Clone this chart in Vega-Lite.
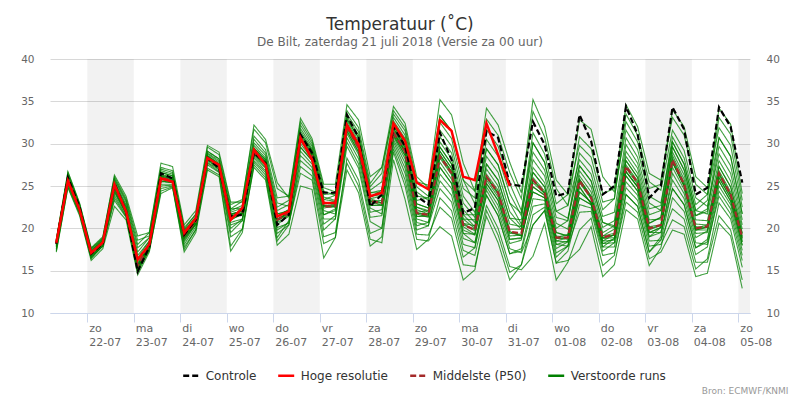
{
  "$schema": "https://vega.github.io/schema/vega-lite/v6.json",
  "width": 700,
  "height": 254,
  "autosize": {"type": "none"},
  "padding": {"left": 50, "top": 59, "right": 50, "bottom": 87},
  "background": "white",
  "config": {
    "font": "DejaVu Sans",
    "view": {"stroke": null},
    "legend": {
      "orient": "none",
      "legendX": 131.7,
      "legendY": 307,
      "direction": "horizontal",
      "symbolType": "stroke",
      "symbolSize": 256,
      "symbolStrokeWidth": 2.5,
      "symbolOpacity": 1,
      "labelFont": "DejaVu Sans",
      "labelFontSize": 12,
      "labelColor": "#333333",
      "labelOffset": 5,
      "columnPadding": 16,
      "padding": 0
    }
  },
  "title": {
    "text": "Temperatuur (˚C)",
    "subtitle": "De Bilt, zaterdag 21 juli 2018 (Versie za 00 uur)",
    "anchor": "middle",
    "font": "DejaVu Sans",
    "fontSize": 17,
    "fontWeight": "normal",
    "color": "#333333",
    "subtitleFont": "DejaVu Sans",
    "subtitleFontSize": 12,
    "subtitleColor": "#666666",
    "subtitlePadding": 3,
    "offset": 5
  },
  "datasets": {
    "bands": [
      {"T": "2018-07-22T00:00Z", "T2": "2018-07-23T00:00Z"},
      {"T": "2018-07-24T00:00Z", "T2": "2018-07-25T00:00Z"},
      {"T": "2018-07-26T00:00Z", "T2": "2018-07-27T00:00Z"},
      {"T": "2018-07-28T00:00Z", "T2": "2018-07-29T00:00Z"},
      {"T": "2018-07-30T00:00Z", "T2": "2018-07-31T00:00Z"},
      {"T": "2018-08-01T00:00Z", "T2": "2018-08-02T00:00Z"},
      {"T": "2018-08-03T00:00Z", "T2": "2018-08-04T00:00Z"},
      {"T": "2018-08-05T00:00Z", "T2": "2018-08-06T00:00Z"}
    ],
    "runs": [
      {"T":"2018-07-21T08:00Z","C":18.2,"H":18.3,"M":18.2,"a":18.6,"b":17.2,"c":18.3,"d":18.0,"e":18.2,"f":17.8,"g":18.4,"h":18.2,"i":18.2,"j":17.6,"k":18.3,"l":18.1,"m":18.2,"n":17.9,"o":18.5,"p":17.5,"q":18.4,"r":17.3,"s":18.2,"t":18.6,"u":17.8,"v":18.2,"w":18.0,"x":18.7},
      {"T":"2018-07-21T14:00Z","C":26.0,"H":25.6,"M":25.8,"a":26.6,"b":24.8,"c":25.9,"d":25.6,"e":25.8,"f":25.4,"g":26.2,"h":25.8,"i":25.8,"j":25.3,"k":26.0,"l":25.7,"m":25.9,"n":25.5,"o":26.3,"p":25.1,"q":26.1,"r":24.9,"s":25.8,"t":26.4,"u":25.4,"v":25.8,"w":25.6,"x":26.7},
      {"T":"2018-07-21T20:00Z","C":22.5,"H":22.2,"M":22.3,"a":22.9,"b":21.5,"c":22.4,"d":22.2,"e":22.3,"f":22.0,"g":22.6,"h":22.3,"i":22.3,"j":21.9,"k":22.5,"l":22.2,"m":22.4,"n":22.1,"o":22.7,"p":21.8,"q":22.5,"r":21.7,"s":22.3,"t":22.8,"u":22.0,"v":22.3,"w":22.2,"x":23.0},
      {"T":"2018-07-22T02:00Z","C":17.0,"H":17.1,"M":17.0,"a":17.6,"b":16.2,"c":17.1,"d":16.9,"e":17.0,"f":16.7,"g":17.3,"h":17.0,"i":17.0,"j":16.6,"k":17.2,"l":16.9,"m":17.1,"n":16.8,"o":17.4,"p":16.5,"q":17.2,"r":16.4,"s":17.0,"t":17.5,"u":16.7,"v":17.0,"w":16.9,"x":17.7},
      {"T":"2018-07-22T08:00Z","C":18.2,"H":18.35,"M":18.3,"a":18.8,"b":17.6,"c":18.4,"d":18.2,"e":18.4,"f":18.1,"g":18.7,"h":18.3,"i":18.3,"j":17.9,"k":18.5,"l":18.2,"m":18.3,"n":18.1,"o":18.6,"p":17.9,"q":18.6,"r":18.0,"s":18.3,"t":18.9,"u":17.9,"v":18.3,"w":18.2,"x":19.0},
      {"T":"2018-07-22T14:00Z","C":25.3,"H":25.2,"M":25.0,"a":25.6,"b":22.6,"c":25.1,"d":24.8,"e":25.2,"f":24.4,"g":25.9,"h":25.0,"i":24.9,"j":23.6,"k":25.5,"l":24.4,"m":25.0,"n":24.2,"o":25.3,"p":23.9,"q":25.8,"r":24.6,"s":25.0,"t":26.3,"u":23.3,"v":25.0,"w":24.8,"x":26.1},
      {"T":"2018-07-22T20:00Z","C":22.0,"H":22.0,"M":22.0,"a":22.8,"b":21.0,"c":22.2,"d":21.9,"e":22.3,"f":21.8,"g":23.3,"h":22.0,"i":22.0,"j":21.4,"k":22.6,"l":21.8,"m":22.1,"n":21.7,"o":22.5,"p":21.5,"q":23.1,"r":21.8,"s":22.0,"t":23.8,"u":21.3,"v":22.1,"w":21.9,"x":23.5},
      {"T":"2018-07-23T02:00Z","C":14.9,"H":16.3,"M":15.6,"a":17.2,"b":14.5,"c":15.9,"d":15.5,"e":16.2,"f":15.3,"g":18.1,"h":15.6,"i":15.6,"j":15.0,"k":16.8,"l":15.3,"m":15.7,"n":15.2,"o":16.5,"p":15.1,"q":17.7,"r":15.4,"s":15.6,"t":19.1,"u":14.8,"v":15.7,"w":15.5,"x":18.6},
      {"T":"2018-07-23T08:00Z","C":17.8,"H":18.1,"M":18.0,"a":18.9,"b":17.2,"c":18.3,"d":17.9,"e":18.2,"f":17.7,"g":19.5,"h":17.9,"i":18.0,"j":17.6,"k":18.5,"l":17.8,"m":18.0,"n":17.8,"o":18.5,"p":17.4,"q":18.9,"r":17.9,"s":18.0,"t":19.5,"u":17.4,"v":18.1,"w":17.9,"x":19.1},
      {"T":"2018-07-23T14:00Z","C":26.5,"H":25.9,"M":26.0,"a":27.0,"b":24.4,"c":26.4,"d":25.9,"e":26.1,"f":25.0,"g":27.7,"h":25.6,"i":26.2,"j":25.2,"k":26.3,"l":25.5,"m":26.0,"n":25.8,"o":26.6,"p":24.1,"q":26.8,"r":26.0,"s":25.8,"t":27.2,"u":24.7,"v":26.2,"w":25.6,"x":26.6},
      {"T":"2018-07-23T20:00Z","C":25.9,"H":25.5,"M":25.6,"a":26.6,"b":24.9,"c":26.0,"d":25.6,"e":25.7,"f":25.1,"g":27.3,"h":25.4,"i":25.8,"j":25.2,"k":25.9,"l":25.4,"m":25.6,"n":25.5,"o":26.2,"p":24.8,"q":26.4,"r":25.6,"s":25.5,"t":26.8,"u":25.0,"v":25.8,"w":25.4,"x":26.2},
      {"T":"2018-07-24T02:00Z","C":19.25,"H":19.45,"M":19.2,"a":19.9,"b":17.5,"c":19.5,"d":19.1,"e":19.2,"f":18.1,"g":20.4,"h":18.8,"i":19.3,"j":18.4,"k":19.4,"l":18.6,"m":19.2,"n":19.0,"o":19.6,"p":17.2,"q":19.8,"r":19.2,"s":19.0,"t":20.1,"u":17.8,"v":19.3,"w":18.8,"x":19.6},
      {"T":"2018-07-24T08:00Z","C":21.0,"H":21.2,"M":20.8,"a":21.7,"b":19.9,"c":21.2,"d":20.8,"e":20.8,"f":20.2,"g":22.1,"h":20.5,"i":21.0,"j":20.5,"k":20.9,"l":20.5,"m":20.8,"n":20.7,"o":21.4,"p":19.5,"q":21.3,"r":20.8,"s":20.5,"t":21.6,"u":19.8,"v":20.8,"w":20.6,"x":21.2},
      {"T":"2018-07-24T14:00Z","C":28.3,"H":28.3,"M":28.3,"a":29.6,"b":27.5,"c":28.9,"d":28.3,"e":28.3,"f":27.8,"g":29.8,"h":28.0,"i":28.6,"j":28.2,"k":28.4,"l":28.1,"m":28.5,"n":28.3,"o":29.1,"p":26.9,"q":28.8,"r":28.5,"s":27.7,"t":29.1,"u":27.1,"v":28.3,"w":28.2,"x":28.6},
      {"T":"2018-07-24T20:00Z","C":27.1,"H":27.5,"M":27.3,"a":28.7,"b":26.6,"c":28.0,"d":27.3,"e":27.3,"f":26.9,"g":29.0,"h":27.0,"i":27.6,"j":27.2,"k":27.4,"l":27.1,"m":27.5,"n":27.3,"o":28.2,"p":26.1,"q":27.8,"r":27.5,"s":26.7,"t":28.2,"u":26.3,"v":27.3,"w":27.2,"x":27.6},
      {"T":"2018-07-25T02:00Z","C":21.4,"H":21.0,"M":21.4,"a":22.8,"b":19.0,"c":22.1,"d":21.4,"e":21.3,"f":20.0,"g":23.1,"h":20.4,"i":21.7,"j":21.0,"k":21.5,"l":20.7,"m":21.6,"n":21.3,"o":22.3,"p":17.3,"q":21.9,"r":21.6,"s":19.5,"t":22.3,"u":17.9,"v":21.4,"w":21.0,"x":21.7},
      {"T":"2018-07-25T08:00Z","C":21.6,"H":22.4,"M":21.8,"a":23.4,"b":19.9,"c":22.7,"d":21.7,"e":21.8,"f":21.1,"g":23.1,"h":20.9,"i":22.0,"j":21.7,"k":21.8,"l":21.1,"m":22.1,"n":21.8,"o":22.4,"p":19.5,"q":22.4,"r":22.0,"s":20.9,"t":23.2,"u":19.9,"v":21.8,"w":21.7,"x":22.0},
      {"T":"2018-07-25T14:00Z","C":28.9,"H":29.3,"M":29.0,"a":31.7,"b":27.2,"c":30.9,"d":28.8,"e":29.3,"f":28.7,"g":30.5,"h":28.0,"i":29.1,"j":29.0,"k":28.9,"l":28.3,"m":29.8,"n":29.1,"o":29.5,"p":27.5,"q":30.1,"r":29.5,"s":28.5,"t":32.2,"u":27.8,"v":28.9,"w":29.0,"x":29.3},
      {"T":"2018-07-25T20:00Z","C":27.7,"H":27.5,"M":27.6,"a":30.1,"b":25.7,"c":29.3,"d":27.4,"e":27.9,"f":27.2,"g":28.9,"h":26.6,"i":27.7,"j":27.6,"k":27.5,"l":26.8,"m":28.3,"n":27.7,"o":28.1,"p":26.0,"q":28.6,"r":28.1,"s":27.1,"t":30.5,"u":26.3,"v":27.5,"w":27.6,"x":27.9},
      {"T":"2018-07-26T02:00Z","C":20.4,"H":21.4,"M":21.0,"a":24.7,"b":18.0,"c":23.6,"d":20.7,"e":21.4,"f":20.4,"g":23.0,"h":19.4,"i":21.1,"j":21.0,"k":20.9,"l":19.8,"m":22.1,"n":21.1,"o":21.7,"p":18.5,"q":22.5,"r":21.7,"s":20.1,"t":25.4,"u":18.9,"v":20.9,"w":21.0,"x":21.4},
      {"T":"2018-07-26T08:00Z","C":21.6,"H":22.0,"M":21.8,"a":23.8,"b":19.3,"c":23.8,"d":21.4,"e":22.2,"f":21.6,"g":22.6,"h":20.4,"i":21.8,"j":21.9,"k":21.6,"l":20.7,"m":22.8,"n":21.8,"o":22.1,"p":20.4,"q":23.3,"r":22.0,"s":20.6,"t":23.6,"u":20.9,"v":21.8,"w":21.9,"x":22.2},
      {"T":"2018-07-26T14:00Z","C":31.1,"H":30.7,"M":30.5,"a":32.2,"b":25.0,"c":33.0,"d":29.1,"e":31.2,"f":30.3,"g":31.0,"h":27.3,"i":30.5,"j":30.8,"k":29.6,"l":28.0,"m":31.8,"n":30.0,"o":30.6,"p":28.6,"q":32.6,"r":30.5,"s":26.5,"t":31.5,"u":29.6,"v":30.6,"w":30.8,"x":31.2},
      {"T":"2018-07-26T20:00Z","C":28.9,"H":28.1,"M":28.6,"a":30.0,"b":24.6,"c":30.6,"d":27.6,"e":29.2,"f":28.5,"g":29.0,"h":26.2,"i":28.6,"j":28.8,"k":28.0,"l":26.8,"m":29.7,"n":28.2,"o":28.7,"p":27.2,"q":30.3,"r":28.6,"s":25.7,"t":29.4,"u":28.0,"v":28.7,"w":28.8,"x":29.2},
      {"T":"2018-07-27T02:00Z","C":24.2,"H":23.0,"M":22.6,"a":24.4,"b":16.5,"c":25.2,"d":21.1,"e":23.4,"f":22.4,"g":23.1,"h":19.0,"i":22.6,"j":22.9,"k":21.6,"l":19.8,"m":24.0,"n":22.1,"o":22.7,"p":20.5,"q":24.8,"r":22.6,"s":18.2,"t":23.7,"u":21.6,"v":22.7,"w":22.9,"x":23.4},
      {"T":"2018-07-27T08:00Z","C":24.2,"H":23.0,"M":22.6,"a":23.9,"b":18.9,"c":25.2,"d":21.1,"e":23.2,"f":22.6,"g":22.8,"h":19.5,"i":22.7,"j":23.0,"k":22.1,"l":21.1,"m":24.1,"n":21.7,"o":22.6,"p":21.5,"q":24.3,"r":22.5,"s":18.9,"t":23.3,"u":22.3,"v":22.8,"w":23.2,"x":23.9},
      {"T":"2018-07-27T14:00Z","C":33.4,"H":32.2,"M":32.0,"a":32.9,"b":28.3,"c":34.6,"d":29.7,"e":32.4,"f":32.1,"g":32.0,"h":27.7,"i":32.2,"j":32.7,"k":31.5,"l":30.7,"m":33.5,"n":30.2,"o":31.8,"p":31.2,"q":33.2,"r":31.5,"s":26.9,"t":32.4,"u":32.0,"v":32.2,"w":32.9,"x":33.9},
      {"T":"2018-07-27T20:00Z","C":30.7,"H":29.9,"M":29.5,"a":30.7,"b":25.7,"c":32.8,"d":27.1,"e":30.0,"f":29.6,"g":29.5,"h":25.0,"i":29.8,"j":30.3,"k":29.0,"l":28.2,"m":31.4,"n":27.6,"o":29.3,"p":28.7,"q":31.0,"r":29.0,"s":24.2,"t":30.0,"u":29.5,"v":29.8,"w":30.7,"x":31.9},
      {"T":"2018-07-28T02:00Z","C":22.6,"H":23.8,"M":23.2,"a":24.2,"b":19.4,"c":26.1,"d":20.8,"e":23.7,"f":23.3,"g":23.2,"h":18.7,"i":23.5,"j":23.9,"k":22.7,"l":21.9,"m":24.9,"n":21.3,"o":23.0,"p":22.4,"q":24.5,"r":22.7,"s":17.9,"t":23.7,"u":23.2,"v":23.5,"w":24.2,"x":25.3},
      {"T":"2018-07-28T08:00Z","C":24.0,"H":24.2,"M":23.0,"a":24.2,"b":20.0,"c":27.2,"d":20.0,"e":24.2,"f":23.0,"g":22.7,"h":18.3,"i":23.8,"j":23.8,"k":22.8,"l":22.2,"m":26.5,"n":21.5,"o":23.0,"p":21.7,"q":25.5,"r":22.7,"s":19.0,"t":24.5,"u":23.3,"v":23.0,"w":24.5,"x":27.2},
      {"T":"2018-07-28T14:00Z","C":32.0,"H":32.4,"M":31.3,"a":31.8,"b":29.8,"c":33.5,"d":29.0,"e":32.4,"f":31.3,"g":30.8,"h":28.1,"i":32.1,"j":31.6,"k":31.3,"l":31.0,"m":33.9,"n":30.5,"o":31.4,"p":30.2,"q":33.1,"r":31.2,"s":29.4,"t":32.7,"u":31.8,"v":31.0,"w":32.1,"x":34.4},
      {"T":"2018-07-28T20:00Z","C":29.7,"H":30.3,"M":29.1,"a":29.6,"b":26.5,"c":31.5,"d":25.0,"e":30.3,"f":29.1,"g":28.2,"h":23.4,"i":29.9,"j":29.4,"k":29.1,"l":28.6,"m":31.9,"n":27.7,"o":29.2,"p":27.1,"q":31.0,"r":28.9,"s":25.7,"t":30.6,"u":29.6,"v":28.6,"w":29.9,"x":32.4},
      {"T":"2018-07-29T02:00Z","C":23.8,"H":25.4,"M":21.8,"a":22.5,"b":19.8,"c":24.9,"d":18.7,"e":23.3,"f":21.8,"g":21.1,"h":17.5,"i":22.9,"j":22.2,"k":21.8,"l":21.4,"m":25.5,"n":20.7,"o":21.9,"p":20.3,"q":24.3,"r":21.7,"s":19.3,"t":23.8,"u":22.5,"v":21.4,"w":22.9,"x":26.1},
      {"T":"2018-07-29T08:00Z","C":22.8,"H":24.6,"M":21.6,"a":21.9,"b":20.3,"c":23.8,"d":18.5,"e":23.6,"f":21.5,"g":20.7,"h":18.7,"i":22.4,"j":21.7,"k":21.7,"l":21.6,"m":25.1,"n":20.3,"o":22.1,"p":20.7,"q":23.3,"r":21.3,"s":19.2,"t":23.6,"u":22.1,"v":21.4,"w":22.4,"x":24.8},
      {"T":"2018-07-29T14:00Z","C":31.3,"H":32.8,"M":28.5,"a":28.7,"b":26.4,"c":31.6,"d":20.2,"e":33.3,"f":27.8,"g":25.6,"h":23.6,"i":29.6,"j":28.5,"k":29.1,"l":28.7,"m":35.2,"n":24.7,"o":30.2,"p":27.2,"q":30.8,"r":27.2,"s":22.5,"t":32.5,"u":29.1,"v":28.3,"w":29.6,"x":33.3},
      {"T":"2018-07-29T20:00Z","C":28.1,"H":31.5,"M":26.5,"a":26.7,"b":24.7,"c":29.7,"d":19.1,"e":31.5,"f":25.8,"g":23.9,"h":22.1,"i":27.6,"j":26.5,"k":27.1,"l":26.7,"m":33.4,"n":23.1,"o":28.2,"p":25.3,"q":28.9,"r":25.3,"s":21.2,"t":30.6,"u":27.1,"v":26.3,"w":27.6,"x":31.5},
      {"T":"2018-07-30T02:00Z","C":21.8,"H":26.1,"M":20.4,"a":20.6,"b":18.8,"c":23.8,"d":13.9,"e":25.7,"f":19.8,"g":18.1,"h":16.6,"i":21.6,"j":20.4,"k":21.1,"l":20.6,"m":27.7,"n":17.4,"o":22.2,"p":19.4,"q":23.0,"r":19.4,"s":15.7,"t":24.7,"u":21.1,"v":20.2,"w":21.6,"x":25.7},
      {"T":"2018-07-30T08:00Z","C":22.4,"H":25.7,"M":19.8,"a":19.7,"b":18.3,"c":21.9,"d":15.1,"e":24.4,"f":19.2,"g":17.7,"h":17.7,"i":21.6,"j":19.9,"k":20.0,"l":20.3,"m":24.4,"n":16.8,"o":20.7,"p":19.3,"q":21.3,"r":18.3,"s":15.5,"t":23.6,"u":21.0,"v":19.3,"w":20.2,"x":22.9},
      {"T":"2018-07-30T14:00Z","C":31.5,"H":32.4,"M":26.1,"a":25.7,"b":24.5,"c":28.5,"d":22.1,"e":34.2,"f":25.3,"g":23.9,"h":24.9,"i":30.5,"j":26.4,"k":26.1,"l":27.6,"m":31.7,"n":22.7,"o":27.0,"p":26.0,"q":27.6,"r":23.9,"s":21.4,"t":32.9,"u":29.4,"v":25.3,"w":26.1,"x":29.4},
      {"T":"2018-07-30T20:00Z","C":30.7,"H":28.7,"M":24.2,"a":23.7,"b":22.1,"c":26.6,"d":19.2,"e":32.2,"f":23.3,"g":21.5,"h":22.7,"i":28.5,"j":24.5,"k":24.2,"l":25.7,"m":29.7,"n":20.0,"o":25.0,"p":24.0,"q":25.7,"r":21.5,"s":18.3,"t":31.0,"u":27.5,"v":23.3,"w":24.2,"x":27.5},
      {"T":"2018-07-31T02:00Z","C":25.2,"H":25.0,"M":19.6,"a":19.1,"b":17.6,"c":22.0,"d":14.8,"e":27.8,"f":18.7,"g":17.0,"h":18.2,"i":24.1,"j":19.9,"k":19.6,"l":21.2,"m":25.3,"n":15.5,"o":20.5,"p":19.4,"q":21.2,"r":17.0,"s":13.9,"t":26.6,"u":23.0,"v":18.7,"w":19.6,"x":23.0},
      {"T":"2018-07-31T08:00Z","C":25.0,"M":19.4,"a":19.2,"b":17.1,"c":20.2,"d":15.7,"e":24.2,"f":18.9,"g":17.6,"h":18.6,"i":21.5,"j":19.9,"k":19.1,"l":19.9,"m":22.1,"n":15.1,"o":20.2,"p":19.3,"q":21.0,"r":17.3,"s":15.7,"t":23.5,"u":20.5,"v":18.8,"w":19.1,"x":21.8},
      {"T":"2018-07-31T14:00Z","C":32.6,"M":25.7,"a":25.7,"b":20.4,"c":26.6,"d":20.4,"e":35.2,"f":25.4,"g":23.5,"h":24.9,"i":29.0,"j":27.2,"k":24.3,"l":26.0,"m":30.1,"n":16.7,"o":28.1,"p":25.7,"q":30.1,"r":22.6,"s":21.6,"t":33.8,"u":26.6,"v":24.9,"w":24.3,"x":31.3},
      {"T":"2018-07-31T20:00Z","C":29.9,"M":24.2,"a":24.2,"b":22.1,"c":24.9,"d":22.1,"e":32.0,"f":24.1,"g":23.3,"h":23.9,"i":26.9,"j":25.4,"k":23.6,"l":24.4,"m":27.8,"n":20.6,"o":26.2,"p":24.2,"q":27.8,"r":22.9,"s":22.5,"t":30.8,"u":24.9,"v":23.9,"w":23.6,"x":28.8},
      {"T":"2018-08-01T02:00Z","C":23.8,"M":18.9,"a":18.9,"b":15.9,"c":19.5,"d":15.9,"e":25.7,"f":18.8,"g":17.6,"h":18.5,"i":21.3,"j":20.0,"k":18.1,"l":19.1,"m":22.0,"n":13.9,"o":20.6,"p":18.9,"q":22.0,"r":17.1,"s":16.6,"t":24.7,"u":19.5,"v":18.5,"w":18.1,"x":22.9},
      {"T":"2018-08-01T08:00Z","C":24.2,"M":18.9,"a":19.3,"b":16.2,"c":19.1,"d":17.3,"e":24.0,"f":18.9,"g":18.4,"h":18.9,"i":20.9,"j":20.9,"k":17.9,"l":18.9,"m":21.2,"n":16.0,"o":19.9,"p":18.7,"q":22.7,"r":17.9,"s":17.9,"t":22.7,"u":19.1,"v":18.4,"w":18.5,"x":24.0},
      {"T":"2018-08-01T14:00Z","C":33.4,"M":25.6,"a":26.8,"b":17.5,"c":25.6,"d":22.8,"e":29.8,"f":25.8,"g":24.9,"h":25.8,"i":27.4,"j":28.9,"k":21.9,"l":25.4,"m":27.4,"n":19.8,"o":26.2,"p":24.3,"q":30.8,"r":23.6,"s":24.3,"t":28.1,"u":25.6,"v":23.6,"w":24.9,"x":32.8},
      {"T":"2018-08-01T20:00Z","C":30.3,"M":23.6,"a":24.9,"b":20.2,"c":23.6,"d":22.4,"e":28.4,"f":23.8,"g":22.9,"h":23.8,"i":25.6,"j":27.3,"k":22.0,"l":23.5,"m":25.6,"n":21.2,"o":24.3,"p":23.1,"q":29.4,"r":22.8,"s":23.1,"t":26.4,"u":23.6,"v":22.8,"w":22.9,"x":31.7},
      {"T":"2018-08-02T02:00Z","C":24.0,"M":18.9,"a":20.1,"b":14.3,"c":18.9,"d":17.3,"e":23.1,"f":19.1,"g":18.5,"h":19.1,"i":20.7,"j":22.2,"k":16.8,"l":18.8,"m":20.7,"n":15.6,"o":19.5,"p":18.2,"q":24.1,"r":17.8,"s":18.2,"t":21.4,"u":18.9,"v":17.8,"w":18.5,"x":26.1},
      {"T":"2018-08-02T08:00Z","C":25.0,"M":19.3,"a":20.9,"b":15.7,"c":19.2,"d":18.3,"e":23.5,"f":19.4,"g":18.6,"h":19.9,"i":20.3,"j":23.5,"k":17.1,"l":18.9,"m":20.1,"n":16.8,"o":20.3,"p":18.3,"q":24.7,"r":18.8,"s":18.8,"t":21.9,"u":19.2,"v":17.8,"w":19.3,"x":24.3},
      {"T":"2018-08-02T14:00Z","C":34.4,"M":27.3,"a":29.9,"b":22.2,"c":26.7,"d":26.2,"e":32.6,"f":27.3,"g":25.5,"h":28.5,"i":28.0,"j":33.5,"k":23.1,"l":26.2,"m":27.5,"n":24.0,"o":29.1,"p":24.8,"q":34.6,"r":27.1,"s":26.7,"t":30.7,"u":26.7,"v":24.0,"w":28.0,"x":31.6},
      {"T":"2018-08-02T20:00Z","C":31.1,"M":25.4,"a":27.7,"b":21.1,"c":24.9,"d":24.4,"e":30.2,"f":25.4,"g":23.9,"h":26.5,"i":26.0,"j":31.0,"k":21.9,"l":24.4,"m":25.6,"n":22.6,"o":27.1,"p":23.3,"q":32.0,"r":25.2,"s":24.9,"t":28.4,"u":24.9,"v":22.6,"w":26.0,"x":29.3},
      {"T":"2018-08-03T02:00Z","C":23.6,"M":20.0,"a":22.3,"b":15.6,"c":19.5,"d":19.0,"e":24.7,"f":20.0,"g":18.5,"h":21.0,"i":20.6,"j":25.5,"k":16.4,"l":19.0,"m":20.2,"n":17.2,"o":21.6,"p":17.9,"q":26.5,"r":19.8,"s":19.5,"t":23.0,"u":19.5,"v":17.2,"w":20.6,"x":23.8},
      {"T":"2018-08-03T08:00Z","C":25.0,"M":20.4,"a":22.7,"b":17.7,"c":20.1,"d":19.5,"e":25.2,"f":20.3,"g":18.6,"h":21.1,"i":21.3,"j":24.5,"k":17.2,"l":20.1,"m":20.4,"n":19.0,"o":22.1,"p":18.1,"q":25.7,"r":20.4,"s":19.5,"t":22.1,"u":20.1,"v":18.6,"w":21.3,"x":23.0},
      {"T":"2018-08-03T14:00Z","C":34.3,"M":28.1,"a":30.8,"b":23.6,"c":27.8,"d":25.7,"e":34.0,"f":27.2,"g":22.3,"h":28.6,"i":29.6,"j":31.6,"k":19.8,"l":28.1,"m":27.8,"n":26.5,"o":30.2,"p":21.0,"q":33.1,"r":28.3,"s":24.7,"t":29.0,"u":27.8,"v":24.7,"w":29.6,"x":30.2},
      {"T":"2018-08-03T20:00Z","C":31.7,"M":25.2,"a":28.3,"b":22.0,"c":25.0,"d":23.5,"e":32.0,"f":24.6,"g":21.1,"h":25.8,"i":26.9,"j":29.2,"k":19.3,"l":25.2,"m":25.0,"n":24.1,"o":27.6,"p":20.2,"q":31.0,"r":25.4,"s":22.8,"t":26.3,"u":25.0,"v":22.8,"w":26.9,"x":27.6},
      {"T":"2018-08-04T02:00Z","C":24.0,"M":20.0,"a":22.8,"b":16.9,"c":19.8,"d":18.3,"e":26.1,"f":19.4,"g":16.0,"h":20.5,"i":21.5,"j":23.6,"k":14.3,"l":20.0,"m":19.8,"n":18.9,"o":22.1,"p":15.2,"q":25.2,"r":20.2,"s":17.7,"t":21.0,"u":19.8,"v":17.7,"w":21.5,"x":22.1},
      {"T":"2018-08-04T08:00Z","C":24.8,"M":20.2,"a":24.0,"b":17.8,"c":20.2,"d":18.1,"e":24.8,"f":19.5,"g":16.0,"h":20.4,"i":22.0,"j":22.6,"k":14.7,"l":20.4,"m":19.8,"n":19.7,"o":21.7,"p":16.4,"q":24.0,"r":20.1,"s":18.4,"t":20.9,"u":20.1,"v":18.7,"w":22.3,"x":23.3},
      {"T":"2018-08-04T14:00Z","C":34.3,"M":26.5,"a":34.2,"b":24.4,"c":26.8,"d":23.8,"e":31.9,"f":25.6,"g":21.5,"h":26.5,"i":29.7,"j":28.8,"k":20.6,"l":27.3,"m":26.0,"n":26.3,"o":28.0,"p":23.0,"q":30.7,"r":26.0,"s":25.0,"t":27.3,"u":26.5,"v":25.6,"w":30.7,"x":33.1},
      {"T":"2018-08-04T20:00Z","C":32.0,"M":24.0,"a":32.3,"b":22.3,"c":24.3,"d":21.7,"e":29.8,"f":23.2,"g":19.8,"h":24.0,"i":27.4,"j":26.5,"k":19.1,"l":24.9,"m":23.6,"n":23.9,"o":25.6,"p":21.1,"q":28.5,"r":23.6,"s":22.8,"t":24.9,"u":24.0,"v":23.2,"w":28.5,"x":31.1},
      {"T":"2018-08-05T02:00Z","C":25.4,"M":18.9,"a":24.1,"b":16.8,"c":19.1,"d":16.2,"e":22.5,"f":18.0,"g":13.9,"h":18.9,"i":21.0,"j":20.4,"k":12.9,"l":19.4,"m":18.4,"n":18.7,"o":19.9,"p":15.4,"q":21.7,"r":18.4,"s":17.4,"t":19.4,"u":18.9,"v":18.0,"w":21.7,"x":23.3}
    ]
  },
  "encoding": {
    "x": {
      "field": "T",
      "type": "temporal",
      "scale": {
        "type": "utc",
        "domain": [
          {"year": 2018, "month": 7, "date": 21, "hours": 4, "minutes": 45, "utc": true},
          {"year": 2018, "month": 8, "date": 5, "hours": 6, "utc": true}
        ]
      },
      "axis": {
        "title": "Bron: ECMWF/KNMI",
        "titleFont": "DejaVu Sans",
        "titleFontSize": 9,
        "titleFontWeight": "normal",
        "titleColor": "#999999",
        "titleAnchor": "end",
        "titleAlign": "right",
        "titleBaseline": "alphabetic",
        "titleX": 738,
        "titleY": 80.5,
        "tickCount": {"interval": "day", "step": 1},
        "labelExpr": "[['zo','ma','di','wo','do','vr','za'][utcday(datum.value)], utcFormat(datum.value, '%d-%m')]",
        "labelAlign": "left",
        "labelBaseline": "top",
        "labelOffset": 1.5,
        "labelPadding": 0,
        "labelLineHeight": 14.5,
        "labelFont": "DejaVu Sans",
        "labelFontSize": 11,
        "labelColor": "#666666",
        "labelFlush": false,
        "labelOverlap": false,
        "tickSize": 9,
        "tickColor": "#ccd6eb",
        "domainColor": "#ccd6eb",
        "grid": false
      }
    }
  },
  "layer": [
    {
      "data": {"name": "bands"},
      "mark": {"type": "rect", "fill": "#000000", "fillOpacity": 0.05, "clip": true},
      "encoding": {"x2": {"field": "T2"}}
    },
    {
      "data": {"name": "runs"},
      "transform": [
        {"fold": ["a","b","c","d","e","f","g","h","i","j","k","l","m","n","o","p","q","r","s","t","u","v","w","x"], "as": ["member", "v"]}
      ],
      "mark": {"type": "line", "strokeWidth": 1.1, "strokeOpacity": 0.75},
      "encoding": {
        "y": {
          "field": "v",
          "type": "quantitative",
          "scale": {"domain": [10, 40], "nice": false, "zero": false},
          "axis": {
            "title": null,
            "values": [10, 15, 20, 25, 30, 35, 40],
            "grid": true,
            "gridColor": "#d8d8d8",
            "domain": false,
            "ticks": false,
            "labelPadding": 16,
            "labelFont": "DejaVu Sans",
            "labelFontSize": 10.5,
            "labelColor": "#666666"
          }
        },
        "detail": {"field": "member"},
        "color": {
          "datum": "Verstoorde runs",
          "scale": {"domain": ["Controle", "Hoge resolutie", "Middelste (P50)", "Verstoorde runs"], "range": ["#000000", "#ff0000", "#a52a2a", "#008000"]},
          "legend": {"title": null}
        },
        "strokeDash": {
          "datum": "Verstoorde runs",
          "scale": {"domain": ["Controle", "Hoge resolutie", "Middelste (P50)", "Verstoorde runs"], "range": [[6, 3], [1, 0], [6, 3], [1, 0]]},
          "legend": {"title": null}
        }
      }
    },
    {
      "data": {"name": "runs"},
      "mark": {"type": "line", "strokeWidth": 2.2},
      "encoding": {
        "y": {"field": "M", "type": "quantitative", "axis": null},
        "color": {"datum": "Middelste (P50)", "legend": {"title": null}},
        "strokeDash": {"datum": "Middelste (P50)", "legend": {"title": null}}
      }
    },
    {
      "data": {"name": "runs"},
      "mark": {"type": "line", "strokeWidth": 2.2},
      "encoding": {
        "y": {
          "field": "C",
          "type": "quantitative",
          "axis": {
            "orient": "right",
            "title": null,
            "values": [10, 15, 20, 25, 30, 35, 40],
            "grid": false,
            "domain": false,
            "ticks": false,
            "labelPadding": 16,
            "labelFont": "DejaVu Sans",
            "labelFontSize": 10.5,
            "labelColor": "#666666"
          }
        },
        "color": {"datum": "Controle", "legend": {"title": null}},
        "strokeDash": {"datum": "Controle", "legend": {"title": null}}
      }
    },
    {
      "data": {"name": "runs"},
      "mark": {"type": "line", "strokeWidth": 2.5},
      "encoding": {
        "y": {"field": "H", "type": "quantitative", "axis": null},
        "color": {"datum": "Hoge resolutie", "legend": {"title": null}},
        "strokeDash": {"datum": "Hoge resolutie", "legend": {"title": null}}
      }
    }
  ],
  "resolve": {"axis": {"y": "independent"}}
}
